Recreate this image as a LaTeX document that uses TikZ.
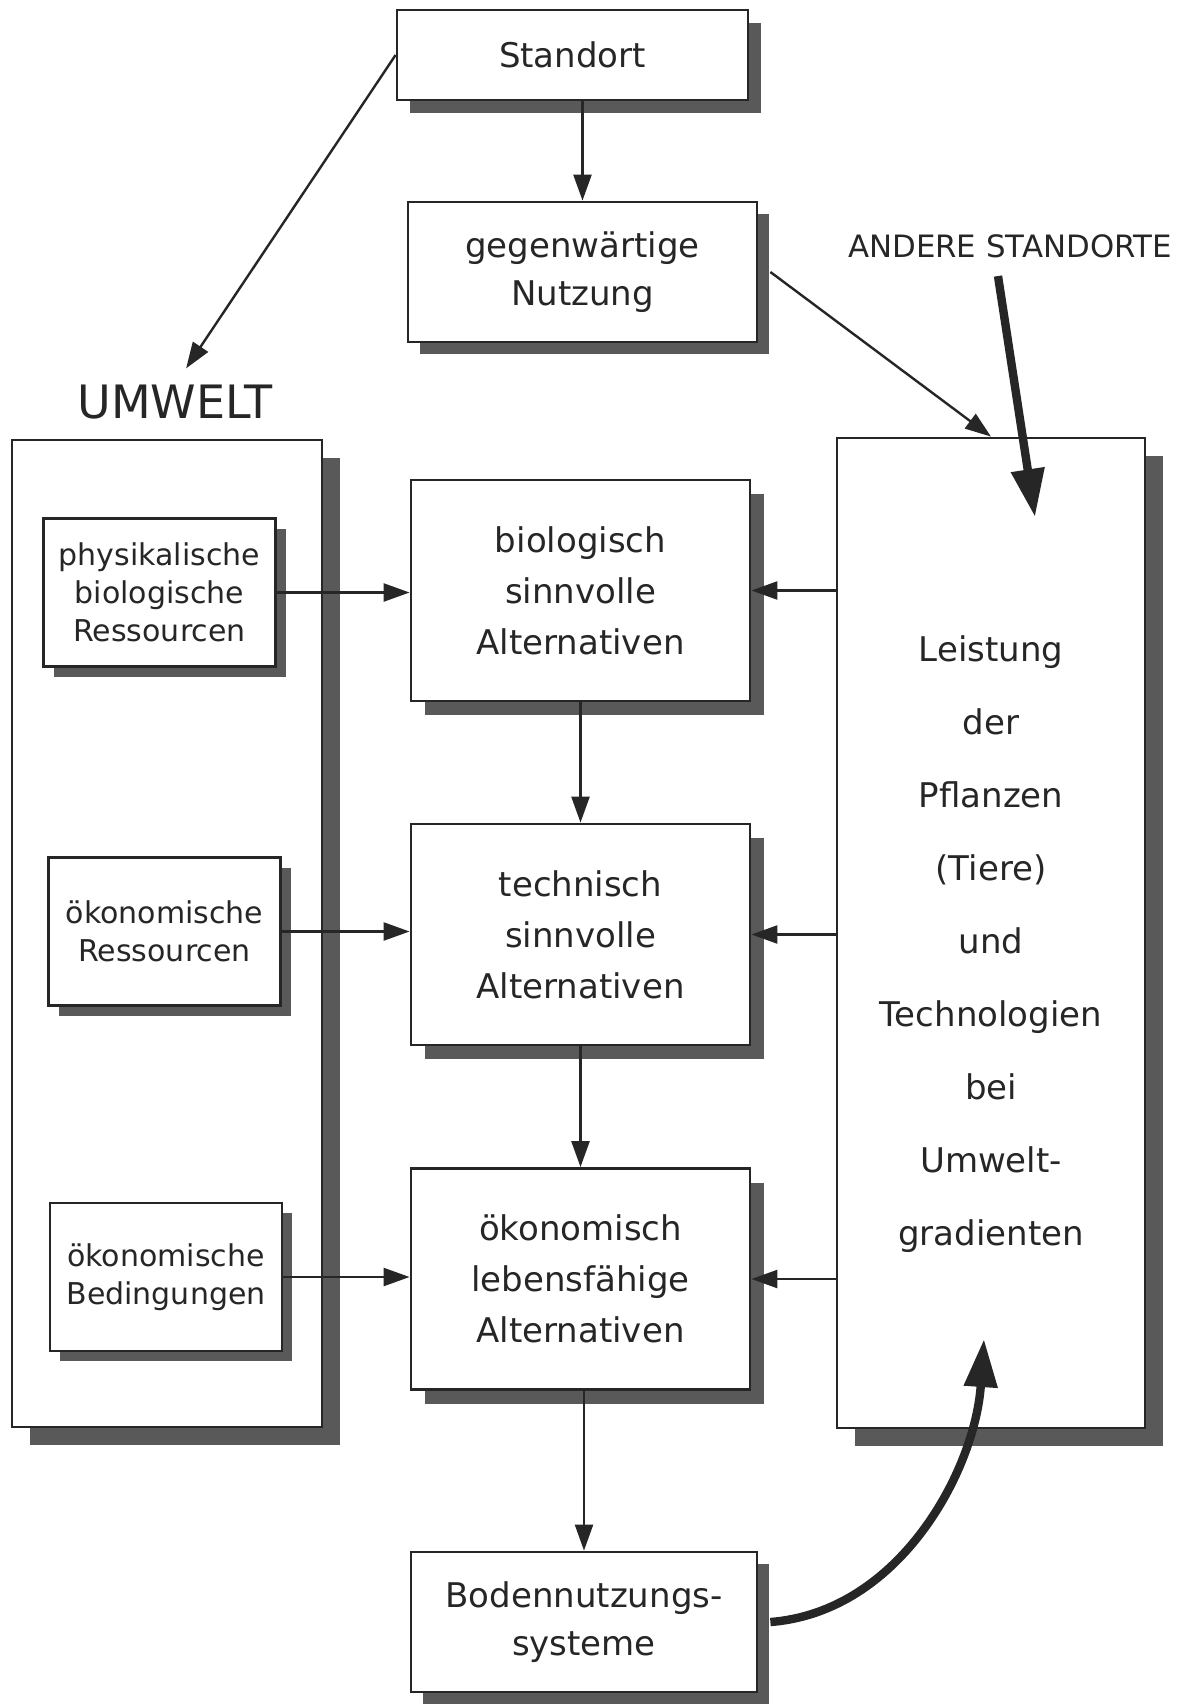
\documentclass[tikz,border=0pt]{standalone}
\usepackage{fontspec}
\setmainfont{DejaVu Sans}
\usetikzlibrary{arrows.meta,shadows}
\tikzset{
  kasten/.style={draw,fill=white,line width=1.4pt,align=center,inner sep=0pt,font=\fontsize{17}{24}\selectfont},
  klein/.style={kasten,minimum width=116pt,minimum height=74pt,schatten=5pt,font=\fontsize{15}{19}\selectfont},
  mitte/.style={kasten,minimum width=169.5pt,minimum height=110.5pt,schatten=7pt,font=\fontsize{17}{25.5}\selectfont},
  schatten/.style={drop shadow={shadow xshift=#1,shadow yshift=-#1,fill=black!65,opacity=1}},
  pfeil/.style={-{Triangle[length=13pt,width=9pt]},line width=1.2pt},
  dick/.style={-{Triangle[length=24pt,width=16pt]},line width=4.2pt},
}
\begin{document}
\begin{tikzpicture}[x=.5pt,y=-.5pt,color=black!85]
\useasboundingbox (0,0) rectangle (1192,1704);
% oben
\node[kasten,minimum width=175.5pt,minimum height=45pt,schatten=6.5pt] (stand) at (572.5,55) {Standort};
\node[kasten,minimum width=174.5pt,minimum height=70pt,schatten=6pt] (nutz) at (582.5,272) {gegenwärtige\\Nutzung};
\node[font=\fontsize{23}{28}\selectfont,inner sep=0pt] (umwtext) at (175,402.5) {UMWELT};
\node[font=\fontsize{15.4}{18}\selectfont,inner sep=0pt] (andere) at (1010,246) {ANDERE STANDORTE};
% Umwelt
\node[kasten,minimum width=155pt,minimum height=493.5pt,schatten=9pt] (umw) at (167,933.5) {};
\node[klein] (phys) at (159.5,592.5) {physikalische\\biologische\\Ressourcen};
\node[klein] (oekres) at (164.5,931.5) {ökonomische\\Ressourcen};
\node[klein] (oekbed) at (166,1277) {ökonomische\\Bedingungen};
% Alternativen
\node[mitte] (bio) at (580.5,590.5) {biologisch\\sinnvolle\\Alternativen};
\node[mitte] (tech) at (580.5,934.5) {technisch\\sinnvolle\\Alternativen};
\node[mitte] (oek) at (580.5,1279) {ökonomisch\\lebensfähige\\Alternativen};
\node[kasten,minimum width=173pt,minimum height=70pt,schatten=6pt] (boden) at (584,1622) {Bodennutzungs-\\systeme};
% Leistung
\node[kasten,minimum width=154pt,minimum height=495pt,schatten=9pt,font=\fontsize{17}{36.5}\selectfont] (leist) at (991,933)
  {\rule{0pt}{24pt}Leistung\\der\\Pflanzen\\(Tiere)\\und\\Technologien\\bei\\Umwelt-\\gradienten};
\coordinate (andtip) at (1035,517);
\coordinate (bodtip) at (984,1339);
% Pfeile
\draw[pfeil] (nutz.north |- stand.south) -- (nutz.north);
\draw[pfeil,shorten >=10pt] (stand.west) -- (umwtext.north);
\draw[pfeil] ([xshift=6pt]nutz.east) -- (leist.north);
\draw[pfeil] (bio) -- (tech);
\draw[pfeil] (tech) -- (oek);
\draw[pfeil] (boden.north |- oek.south) -- (boden.north);
\foreach \a/\b in {phys/bio,oekres/tech,oekbed/oek}{\draw[pfeil] (\a) -- (\a -| \b.west);}
\foreach \b in {bio,tech,oek}{\draw[pfeil] (leist.west |- \b) -- (\b);}
\draw[dick] ([xshift=-6pt,yshift=-9pt]andere.south) -- (andtip);
\draw[dick] ([xshift=6pt]boden.east) .. controls (900,1612) and (975,1470) .. (bodtip);
\end{tikzpicture}
\end{document}
